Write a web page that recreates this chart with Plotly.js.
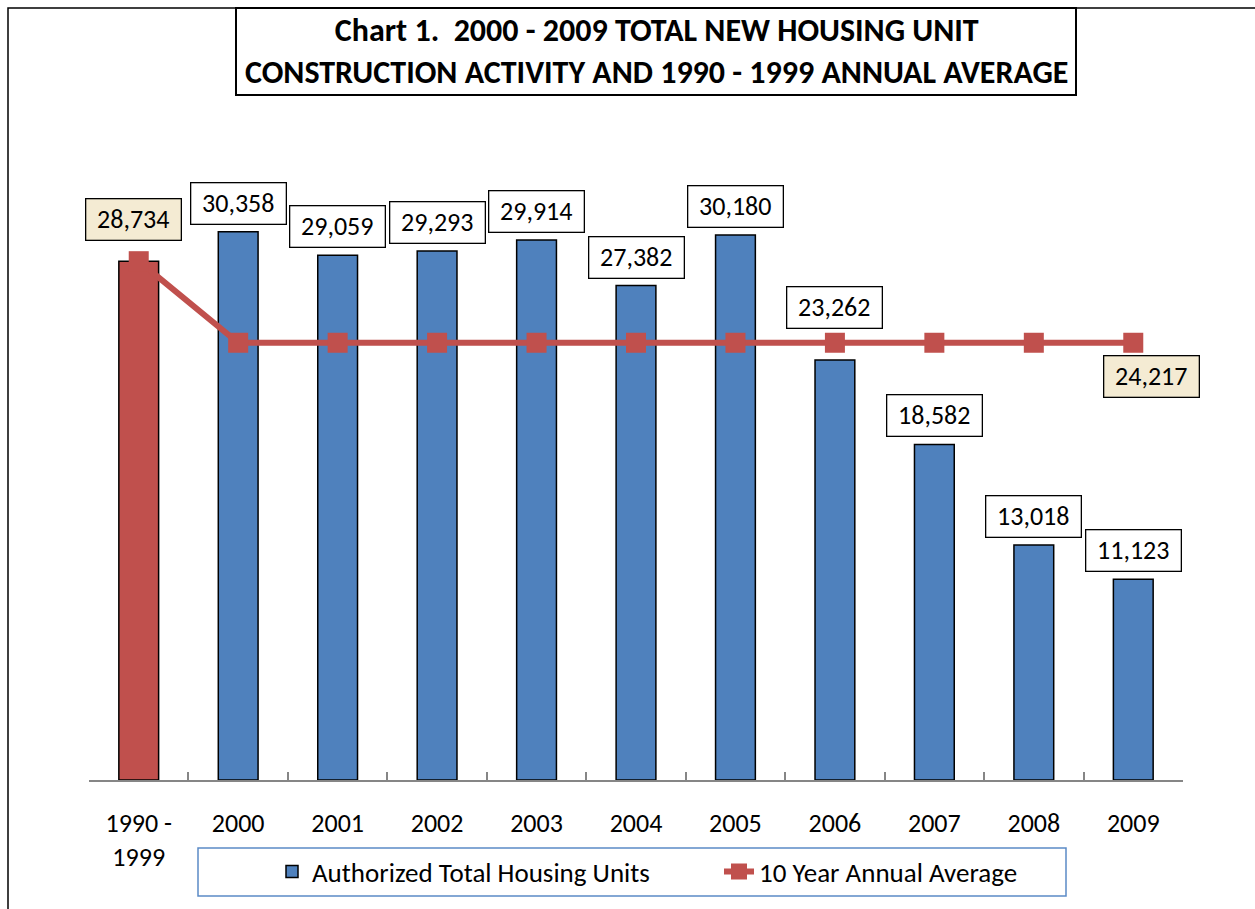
<!DOCTYPE html>
<html>
<head>
<meta charset="utf-8">
<script src="https://cdn.plot.ly/plotly-3.0.1.min.js"></script>
<style>html,body{margin:0;padding:0;background:#fff;}#chart{width:1255px;height:909px;}</style>
</head>
<body>
<div id="chart"></div>
<script>
// ---- data ----
const baseCategory = "1990 -<br>1999";
const baseValue = 28734;
const years = ["2000","2001","2002","2003","2004","2005","2006","2007","2008","2009"];
const housingUnits = [30358, 29059, 29293, 29914, 27382, 30180, 23262, 18582, 13018, 11123];
const avgCategories = ["1990 -<br>1999","2000","2001","2002","2003","2004","2005","2006","2007","2008","2009"];
const avgValues = [28734, 24217, 24217, 24217, 24217, 24217, 24217, 24217, 24217, 24217, 24217];
const barName = "Authorized Total Housing Units";
const lineName = "10 Year Annual Average";
const titleText = "Chart 1.  2000 - 2009 TOTAL NEW HOUSING UNIT<br>CONSTRUCTION ACTIVITY AND 1990 - 1999 ANNUAL AVERAGE";

// ---- geometry helpers (pixel -> paper) ----
const W = 1255, H = 909;
const M = {l: 89, r: 72, t: 130, b: 129};
const PW = W - M.l - M.r, PH = H - M.t - M.b;
const px = v => (v - M.l) / PW;
const py = v => (H - M.b - v) / PH;

const FONT = "Carlito, Lato, 'Open Sans', sans-serif";
const BLUE = "#4F81BD", RED = "#C0504D";
const TXT = 26;

const fmt = v => v.toLocaleString("en-US");
const catIndex = c => avgCategories.indexOf(c);

const annotations = [];
// title
annotations.push({
  xref: "paper", yref: "paper", x: px(656), y: py(52),
  xanchor: "center", yanchor: "middle", showarrow: false,
  text: "<b>" + titleText + "</b>",
  font: {family: FONT, size: 32, color: "#000"}
});
// bar labels
years.forEach((yr, i) => {
  const lift = yr === "2006" ? 31 : 7;
  annotations.push({
    xref: "x", yref: "y", x: catIndex(yr), y: housingUnits[i],
    xanchor: "center", yanchor: "bottom", yshift: lift, showarrow: false,
    text: fmt(housingUnits[i]),
    font: {family: FONT, size: TXT, color: "#000"},
    bgcolor: "#FFFFFF", bordercolor: "#000", borderwidth: 1.3, borderpad: 2,
    width: 90, height: 36
  });
});
// line labels (first and last point)
const lineLabelIdx = [0, avgValues.length - 1];
lineLabelIdx.forEach(i => {
  const first = i === 0;
  annotations.push({
    xref: "x", yref: "y", x: i, y: avgValues[i],
    xanchor: "center", yanchor: first ? "bottom" : "top",
    xshift: first ? -5 : 18, yshift: first ? 20 : -12, showarrow: false,
    text: fmt(avgValues[i]),
    font: {family: FONT, size: TXT, color: "#000"},
    bgcolor: "#F4EBD3", bordercolor: "#000", borderwidth: 1.3, borderpad: 2,
    width: 90, height: 36
  });
});

const shapes = [
  {type: "rect", xref: "paper", yref: "paper", x0: px(8), x1: px(1262), y0: py(8), y1: py(916),
   line: {color: "#000", width: 1.5}, fillcolor: "rgba(0,0,0,0)", layer: "below"},
  {type: "rect", xref: "paper", yref: "paper", x0: px(236), x1: px(1076), y0: py(8), y1: py(95),
   line: {color: "#000", width: 2}, fillcolor: "#FFFFFF", layer: "below"},
  {type: "rect", xref: "paper", yref: "paper", x0: px(198), x1: px(1066), y0: py(848), y1: py(896),
   line: {color: "#5B8AC6", width: 1.5}, fillcolor: "#FFFFFF", layer: "below"}
];

const traces = [
  {type: "bar", x: [baseCategory], y: [baseValue], name: "1990 - 1999", showlegend: false,
   marker: {color: RED, line: {color: "#000", width: 1.5}}, hoverinfo: "skip"},
  {type: "bar", x: years, y: housingUnits, name: barName,
   marker: {color: BLUE, line: {color: "#000", width: 1.5}}, hoverinfo: "skip"},
  {type: "scatter", mode: "lines+markers", x: avgCategories, y: avgValues, name: lineName,
   line: {color: RED, width: 6}, marker: {symbol: "square", size: 20, color: RED},
   hoverinfo: "skip"}
];

const layout = {
  width: W, height: H,
  margin: M,
  paper_bgcolor: "#FFFFFF", plot_bgcolor: "rgba(0,0,0,0)",
  font: {family: FONT, size: TXT, color: "#000"},
  barmode: "overlay", bargap: 0.6,
  showlegend: true,
  legend: {orientation: "h", x: px(272), xanchor: "left", y: py(872), yanchor: "middle",
           bgcolor: "rgba(0,0,0,0)", borderwidth: 0, font: {family: FONT, size: 27, color: "#000"},
           entrywidth: 402, entrywidthmode: "pixels", traceorder: "normal"},
  xaxis: {type: "category", categoryorder: "array", categoryarray: avgCategories,
          range: [-0.5, avgCategories.length - 0.5], autorange: false,
          showline: true, linecolor: "#868686", linewidth: 2,
          ticks: "inside", tickson: "boundaries", ticklen: 8, tickcolor: "#868686", tickwidth: 2,
          showgrid: false, zeroline: false, ticklabelstandoff: 19, tickangle: 0,
          tickfont: {family: FONT, size: TXT, color: "#000"}, fixedrange: true},
  yaxis: {range: [0, 36000], autorange: false, visible: false, showgrid: false, zeroline: false, fixedrange: true},
  annotations: annotations,
  shapes: shapes
};

Plotly.newPlot("chart", traces, layout, {displayModeBar: false, staticPlot: true});
</script>
</body>
</html>
